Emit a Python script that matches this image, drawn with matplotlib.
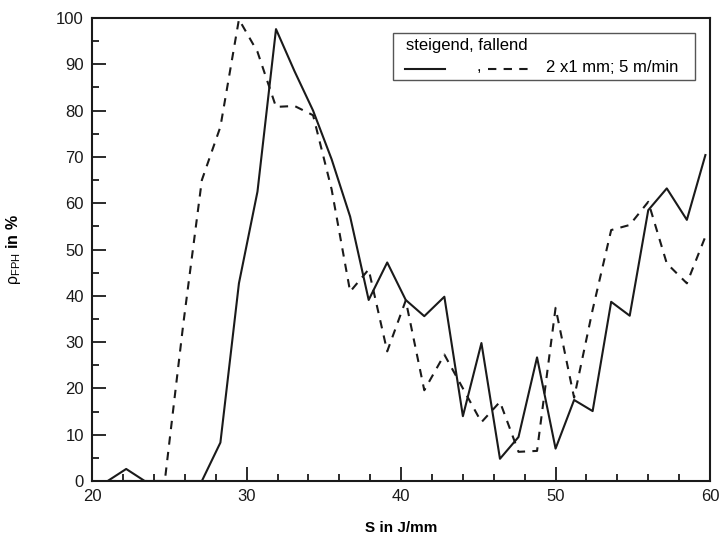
"""Recreate the rho_FPH vs. S line chart (solid / dashed series)."""

import matplotlib

matplotlib.use("Agg")
import matplotlib.pyplot as plt
from matplotlib.lines import Line2D
from matplotlib.patches import Rectangle
from matplotlib.ticker import MultipleLocator

plt.rcParams["font.family"] = ["Liberation Sans", "DejaVu Sans"]
plt.rcParams["mathtext.fontset"] = "custom"
plt.rcParams["mathtext.rm"] = "Liberation Sans"
plt.rcParams["mathtext.it"] = "Liberation Sans:italic"
plt.rcParams["mathtext.bf"] = "Liberation Sans:bold"

# energy per unit length S in J/mm
s_values = [21.0, 22.2, 23.4, 24.7, 25.9, 27.1, 28.3, 29.5, 30.7, 31.9,
            33.1, 34.3, 35.5, 36.7, 37.9, 39.1, 40.3, 41.5, 42.8, 44.0,
            45.2, 46.4, 47.6, 48.8, 50.0, 51.2, 52.4, 53.6, 54.8, 56.0,
            57.2, 58.5, 59.7]
# rho_FPH in %, solid line
rho_solid = [0, 2.6, 0, 0, 0, 0, 8.3, 42.7, 62.5, 97.6,
             88.5, 80.0, 69.5, 57.1, 39.1, 47.2, 39.1, 35.6, 39.8, 14.0,
             29.8, 4.8, 9.5, 26.7, 7.0, 17.5, 15.1, 38.7, 35.7, 58.5,
             63.2, 56.4, 70.4]
# rho_FPH in %, dashed line
rho_dashed = [0, 0, 0, 0, 34.0, 65.0, 76.5, 99.7, 92.7, 80.8,
              81.0, 79.0, 63.0, 40.9, 45.7, 28.0, 39.0, 19.6, 27.3, 20.0,
              12.7, 17.1, 6.3, 6.5, 37.4, 18.0, 37.0, 54.2, 55.3, 60.3,
              47.0, 42.7, 52.8]

fig = plt.figure(figsize=(7.26, 5.39), dpi=100)
ax = fig.add_axes([0.127, 0.1076, 0.851, 0.859])

ax.plot(s_values, rho_solid, color="#1a1a1a", linewidth=1.5)
ax.plot(s_values, rho_dashed, color="#1a1a1a", linewidth=1.5,
        linestyle=(0, (4, 3.5)))

ax.set_xlim(20, 60)
ax.set_ylim(0, 100)
ax.xaxis.set_major_locator(MultipleLocator(10))
ax.xaxis.set_minor_locator(MultipleLocator(2))
ax.yaxis.set_major_locator(MultipleLocator(10))
ax.yaxis.set_minor_locator(MultipleLocator(5))
ax.tick_params(which="both", direction="in", top=False, right=False,
               width=1.3, labelsize=12, colors="#1a1a1a")
ax.tick_params(which="major", length=10, pad=6)
ax.tick_params(which="minor", length=5)
for spine in ax.spines.values():
    spine.set_linewidth(1.5)
    spine.set_color("#1a1a1a")

ax.set_xlabel("S in J/mm", fontsize=11, fontweight="bold", labelpad=12)
ax.set_ylabel(r"$\mathrm{\rho_{FPH}}$ $\mathbf{in\ \%}$", fontsize=11.5,
              fontweight="bold", labelpad=24)

# Origin-style legend box
ax.add_patch(Rectangle((0.487, 0.866), 0.489, 0.102, transform=ax.transAxes,
                       facecolor="white", edgecolor="#555555",
                       linewidth=1.0, zorder=5))
ax.text(0.508, 0.94, "steigend, fallend", transform=ax.transAxes,
        fontsize=12, va="center", zorder=6)
ax.add_line(Line2D([0.506, 0.571], [0.89, 0.89], transform=ax.transAxes,
                   color="#1a1a1a", linewidth=1.5, zorder=6))
ax.text(0.622, 0.895, ",", transform=ax.transAxes, fontsize=12,
        va="center", zorder=6)
ax.add_line(Line2D([0.641, 0.705], [0.89, 0.89], transform=ax.transAxes,
                   color="#1a1a1a", linewidth=1.5,
                   linestyle=(0, (4, 3.5)), zorder=6))
ax.text(0.735, 0.893, "2 x1 mm; 5 m/min", transform=ax.transAxes,
        fontsize=12, va="center", zorder=6)

fig.savefig("out.png", dpi=100)
